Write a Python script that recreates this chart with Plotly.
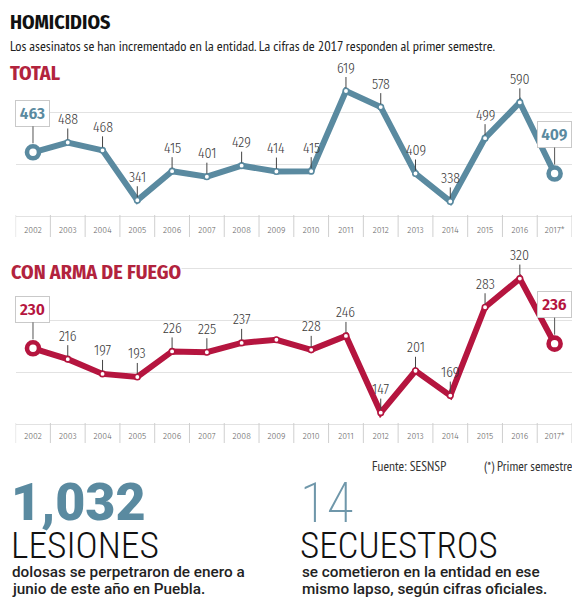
import plotly.graph_objects as go

# Page body has an 8px default margin: design in window pixels, then shift.
OFF = 8
W, H = 580 - OFF, 606 - OFF

years = ["2002", "2003", "2004", "2005", "2006", "2007", "2008", "2009",
         "2010", "2011", "2012", "2013", "2014", "2015", "2016", "2017*"]
total = [463, 488, 468, 341, 415, 401, 429, 414, 415, 619, 578, 409, 338, 499, 590, 409]
arma = [230, 216, 197, 193, 226, 225, 237, 241, 228, 246, 147, 201, 169, 283, 320, 236]
arma_unlabeled = ["2009"]

BLUE = "#5a8aa0"
RED = "#b5153f"
TITLE_RED = "#b2233d"
COND = "Fira Sans Condensed, Roboto Condensed, PT Sans Narrow, sans-serif"
NARROW = "PT Sans Narrow, Fira Sans Condensed, sans-serif"
SANS = "Roboto, Lato, Noto Sans, sans-serif"
RCOND = "Roboto Condensed, Fira Sans Condensed, sans-serif"


def px(x):
    return (x - OFF) / W


def py(y):
    return 1 - (y - OFF) / H


fig = go.Figure()


def add_series(vals, color, xa, ya, unlabeled=()):
    n = len(vals)
    idx = list(range(n))
    ends = [0, n - 1]
    fig.add_trace(go.Scatter(
        x=idx, y=vals, xaxis=xa, yaxis=ya, mode="lines+markers",
        line=dict(color=color, width=6),
        marker=dict(size=5.5, color="white", line=dict(color=color, width=1.6)),
        cliponaxis=False, hoverinfo="skip", showlegend=False))
    fig.add_trace(go.Scatter(
        x=ends, y=[vals[i] for i in ends], xaxis=xa, yaxis=ya, mode="markers",
        marker=dict(size=12, color="white", opacity=1, line=dict(color=color, width=4.6)),
        cliponaxis=False, hoverinfo="skip", showlegend=False))
    for i, (yr, v) in enumerate(zip(years, vals)):
        if yr in unlabeled:
            continue
        if i in ends:
            fig.add_annotation(
                x=i, y=v, xref=xa, yref=ya, text=str(v), showarrow=True,
                ax=0, ay=-39, arrowhead=0, arrowwidth=1, arrowcolor="#555",
                standoff=9, bgcolor="white", bordercolor="#c9c9c9", borderwidth=1,
                borderpad=2, width=29,
                font=dict(family=COND, size=17, color=color, weight=600))
        else:
            fig.add_annotation(
                x=i, y=v, xref=xa, yref=ya, text=str(v), showarrow=True,
                ax=0, ay=-23, arrowhead=0, arrowwidth=1, arrowcolor="#444",
                standoff=3, borderpad=0,
                font=dict(family=COND, size=14, color="#3a3a3a", weight=300))


add_series(total, BLUE, "x", "y")
add_series(arma, RED, "x2", "y2", arma_unlabeled)

xcommon = dict(
    range=[-0.5, len(years) - 0.5], domain=[px(15.6), px(572)],
    tickmode="array", tickvals=list(range(len(years))), ticktext=years,
    ticks="", ticklabelposition="inside", ticklabelstandoff=-1,
    tickfont=dict(family=COND, size=9.5, color="#666", weight=300),
    showgrid=False, showline=False, zeroline=False, fixedrange=True)
ycommon = dict(showgrid=True, gridcolor="#e2e2e2", gridwidth=1, showticklabels=False,
               zeroline=False, ticks="", showline=False, fixedrange=True, tickmode="linear")

fig.update_layout(
    width=W, height=H, margin=dict(l=0, r=0, t=0, b=0),
    paper_bgcolor="white", plot_bgcolor="white",
    xaxis=dict(xcommon, anchor="y"),
    yaxis=dict(ycommon, domain=[py(237), py(80)], range=[247.5, 647], tick0=300.9, dtick=132.3),
    xaxis2=dict(xcommon, anchor="y2"),
    yaxis2=dict(ycommon, domain=[py(443), py(262)], range=[107.8, 341.4], tick0=132.3, dtick=67.1),
)

# vertical separators of the year rows (category boundaries)
for ya_top, ya_bot, xr in ((215, 237, "x"), (423, 443, "x2")):
    for b in range(len(years) + 1):
        fig.add_shape(type="line", xref=xr, yref="paper", x0=b - 0.5, x1=b - 0.5,
                      y0=py(ya_bot), y1=py(ya_top), line=dict(color="#cfcfcf", width=1))


def text(x, y, s, size, color, family=COND, weight=400, bg=None):
    fig.add_annotation(x=px(x), y=py(y), xref="paper", yref="paper", text=s,
                       showarrow=False, xanchor="left", yanchor="middle",
                       bgcolor=bg, borderpad=0,
                       font=dict(family=family, size=size, color=color, weight=weight))


text(9, 22, "HOMICIDIOS", 20, "#111", weight=700)
text(9, 46, "Los asesinatos se han incrementado en la entidad. La cifras de 2017 responden al primer semestre.", 14.3, "#222", family=NARROW)
text(9, 73, "TOTAL", 20, TITLE_RED, weight=700)
text(10, 272, "CON ARMA DE FUEGO", 20, TITLE_RED, weight=700, bg="white")
text(371, 466, "Fuente: SESNSP", 13.5, "#333", family=NARROW)
text(483, 466, "(*) Primer semestre", 13.5, "#333", family=NARROW)

text(10, 502, "1,032", 52, BLUE, family=SANS, weight=900)
text(10, 545, "LESIONES", 37.5, "#111", family=RCOND, weight=300)
text(11, 572, "dolosas se perpetraron de enero a", 15.3, "#222", family=SANS, weight=500)
text(11, 589, "junio de este año en Puebla.", 15.3, "#222", family=SANS, weight=500)

text(299, 503, "14", 55, "#6f97aa", family=RCOND, weight=200)
text(299, 545, "SECUESTROS", 37, "#111", family=RCOND, weight=300)
text(301, 572, "se cometieron en la entidad en ese", 15.3, "#222", family=SANS, weight=500)
text(301, 589, "mismo lapso, según cifras oficiales.", 15.3, "#222", family=SANS, weight=500)

fig.write_html("out.html")
